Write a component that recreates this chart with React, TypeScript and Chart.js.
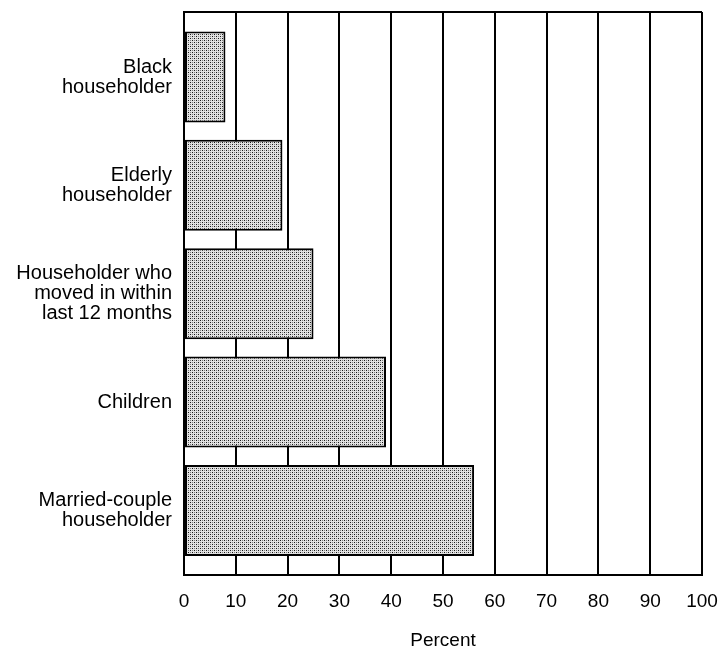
import React, { useEffect, useRef } from "react";
import { Chart, registerables } from "chart.js";

Chart.register(...registerables);

const categories: string[][] = [
  ["Black", "householder"],
  ["Elderly", "householder"],
  ["Householder who", "moved in within", "last 12 months"],
  ["Children"],
  ["Married-couple", "householder"],
];
const values: number[] = [8, 19, 25, 39, 56];
const xTicks: number[] = [0, 10, 20, 30, 40, 50, 60, 70, 80, 90, 100];
const xTitle = "Percent";

function makePattern(): CanvasPattern | string {
  const c = document.createElement("canvas");
  c.width = 4;
  c.height = 4;
  const g = c.getContext("2d");
  if (!g) return "#c4c4c4";
  g.fillStyle = "#e2e2e2";
  g.fillRect(0, 0, 4, 4);
  g.fillStyle = "#1a1a1a";
  g.fillRect(0, 0, 1, 1);
  g.fillRect(2, 2, 1, 1);
  g.fillStyle = "#808080";
  g.fillRect(2, 0, 1, 1);
  g.fillRect(0, 2, 1, 1);
  const p = g.createPattern(c, "repeat");
  return p || "#c4c4c4";
}

const topBorder = {
  id: "topBorder",
  beforeDatasetsDraw(chart: any) {
    const { ctx, chartArea } = chart;
    ctx.save();
    ctx.strokeStyle = "#000";
    ctx.lineWidth = 2;
    ctx.beginPath();
    ctx.moveTo(chartArea.left, chartArea.top);
    ctx.lineTo(chartArea.right, chartArea.top);
    ctx.stroke();
    ctx.restore();
  },
};

export default function App() {
  const ref = useRef<HTMLCanvasElement | null>(null);

  useEffect(() => {
    document.body.style.margin = "0";
    const canvas = ref.current;
    if (!canvas) return;
    const font = "'Liberation Sans', Arial, Helvetica, sans-serif";
    const chart = new Chart(canvas, {
      type: "bar",
      data: {
        datasets: [
          {
            data: values.map((v, i) => ({ x: v, y: i })),
            backgroundColor: makePattern() as any,
            borderColor: "#000",
            borderWidth: 2,
            borderSkipped: false,
            barPercentage: 0.84,
            categoryPercentage: 1,
          },
        ],
      },
      options: {
        indexAxis: "y",
        animation: false,
        responsive: false,
        maintainAspectRatio: false,
        layout: { padding: { left: 0, right: 18, top: 12, bottom: 3 } },
        plugins: {
          legend: { display: false },
          tooltip: { enabled: false },
        },
        scales: {
          x: {
            type: "linear",
            min: xTicks[0],
            max: xTicks[xTicks.length - 1],
            afterBuildTicks: (s: any) => {
              s.ticks = xTicks.map((v) => ({ value: v }));
            },
            afterFit: (s: any) => {
              s.paddingLeft = 0;
              s.paddingRight = 0;
            },
            grid: { color: "#000", lineWidth: 2, drawTicks: false },
            border: { display: true, color: "#000", width: 2 },
            ticks: {
              padding: 15,
              color: "#000",
              font: { family: font, size: 19 },
            },
            title: {
              display: true,
              text: xTitle,
              color: "#000",
              font: { family: font, size: 19 },
              padding: { top: 1, bottom: 0 },
            },
          },
          y: {
            type: "linear",
            reverse: true,
            offset: false,
            min: -0.6,
            max: categories.length - 0.4,
            afterBuildTicks: (s: any) => {
              s.ticks = categories.map((_, i) => ({ value: i }));
            },
            afterFit: (s: any) => {
              s.width = 184;
              s.paddingTop = 0;
              s.paddingBottom = 0;
            },
            grid: { display: false, drawTicks: false, offset: false },
            border: { display: true, color: "#000", width: 2 },
            ticks: {
              autoSkip: false,
              padding: 12,
              color: "#000",
              font: { family: font, size: 20, lineHeight: 1.0 },
              callback: (v: any) => {
                const i = Math.round(Number(v));
                return Math.abs(Number(v) - i) < 1e-6 && categories[i] ? categories[i] : "";
              },
            },
          },
        },
      },
      plugins: [topBorder],
    });
    return () => chart.destroy();
  }, []);

  return (
    <div style={{ width: 720, height: 655, background: "#fff" }}>
      <canvas ref={ref} width={720} height={655} />
    </div>
  );
}
